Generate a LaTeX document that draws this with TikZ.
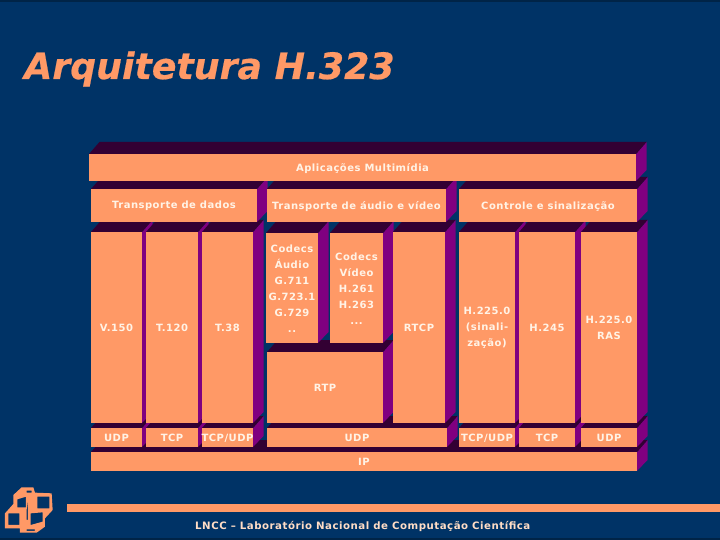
\documentclass[tikz,border=0pt]{standalone}
\usepackage{fontspec}
\setmainfont{DejaVu Sans}
\definecolor{bgblue}{HTML}{003366}
\definecolor{faceor}{HTML}{FF9966}
\definecolor{topdark}{HTML}{330033}
\definecolor{sidepur}{HTML}{800080}
\definecolor{labelc}{HTML}{FFF3E6}
\tikzset{
  slabel/.style={text=labelc,font=\fontsize{10}{16}\selectfont\bfseries\addfontfeature{LetterSpace=5},align=center,inner sep=0pt}
}
\def\rowA{89/154/636/181/a/Aplicações Multimídia}
\def\rowB{91/189/257/222/b/Transporte de dados,
267/189/446/222/c/Transporte de áudio e vídeo,
459/189/637/222/d/Controle e sinalização}
\def\rowC{91/232/142/423/e/V.150,
146/232/198/423/f/T.120,
202/232/253/423/g/T.38,
266/233/318/343/h/{Codecs\\Áudio\\G.711\\G.723.1\\G.729\\..},
330/233/383/343/i/{Codecs\\Vídeo\\H.261\\H.263\\...},
393/232/445/423/k/RTCP,
459/232/515/423/l/{H.225.0\\(sinali-\\zação)},
519/232/575/423/m/H.245,
581/232/637/423/n/{H.225.0\\RAS}}
\def\rowD{267/352/383/423/j/RTP}
\def\rowE{91/428/142/447/o/UDP,
146/428/198/447/p/TCP,
202/428/253/447/q/{TCP/UDP},
267/428/447/447/r/UDP,
459/428/515/447/s/{TCP/UDP},
519/428/575/447/t/TCP,
581/428/637/447/u/UDP}
\def\rowF{91/452/637/471/v/IP}
\newcommand{\backfaces}[1]{%
  \foreach \xa/\ya/\xb/\yb/\nm/\txt in #1 {
    \fill[sidepur] (\xb,\ya) -- (\xb+10.5,\ya-12) -- (\xb+10.5,\yb-11) -- (\xb,\yb) -- cycle;
  }
  \foreach \xa/\ya/\xb/\yb/\nm/\txt in #1 {
    \fill[topdark] (\xa,\ya) -- (\xa+10.5,\ya-12) -- (\xb+10.5,\ya-12) -- (\xb,\ya) -- cycle;
  }
}
\newcommand{\frontfaces}[1]{%
  \foreach \xa/\ya/\xb/\yb/\nm/\txt in #1 {
    \fill[faceor] (\xa,\ya) rectangle (\xb,\yb);
    \node[slabel] (\nm) at ({(\xa+\xb)/2},{(\ya+\yb)/2+0.7}) {\txt};
  }
}
\begin{document}
\begin{tikzpicture}[x=1pt,y=-1pt]
\useasboundingbox (0,0) rectangle (720,540);
\fill[bgblue] (0,0) rectangle (720,540);
\fill[black!30!bgblue] (0,0) rectangle (720,2);
\fill[black!30!bgblue] (0,538) rectangle (720,540);
\node[anchor=base west,inner sep=0pt,text=faceor,font=\fontsize{36.3}{40}\selectfont\bfseries\itshape\addfontfeature{FakeBold=0.5}] (title) at (24,79) {Arquitetura H.323};
\backfaces{\rowF}
\backfaces{\rowE}
\backfaces{\rowD}
\backfaces{\rowC}
\backfaces{\rowB}
\backfaces{\rowA}
\frontfaces{\rowA}
\frontfaces{\rowB}
\frontfaces{\rowC}
\frontfaces{\rowD}
\frontfaces{\rowE}
\frontfaces{\rowF}
% footer
\fill[faceor] (67,504) rectangle (720,511.5);
\node[anchor=base west,inner sep=0pt,text=labelc!75!faceor,font=\fontsize{10.2}{12}\selectfont\bfseries\addfontfeature{LetterSpace=5}] (foot) at (195,529) {LNCC -- Laboratório Nacional de Computação Científica};
% logo
\begin{scope}[shift={(0,480)},x=0.3333pt,y=-0.3333pt]
\fill[faceor,even odd rule]
  (15,100) -- (40,72) -- (40,45) -- (65,22) -- (100,22) -- (105,38) -- (155,40) -- (158,90) -- (135,115) -- (135,140) -- (110,158) -- (60,158) -- (60,145) -- (15,145) -- cycle
  (25,100) -- (58,100) -- (58,135) -- (25,135) -- cycle
  (52,58) -- (78,50) -- (78,82) -- (52,82) -- cycle
  (112,50) -- (148,50) -- (148,85) -- (112,85) -- cycle
  (92,100) -- (128,97) -- (128,125) -- (92,135) -- cycle
  (80,32) -- (95,32) -- (95,38) -- (80,38) -- cycle
  (80,148) -- (105,148) -- (105,153) -- (80,153) -- cycle
  (84,55) -- (84,120) -- (80,120) -- (80,90) -- cycle;
\end{scope}
\end{tikzpicture}
\end{document}
